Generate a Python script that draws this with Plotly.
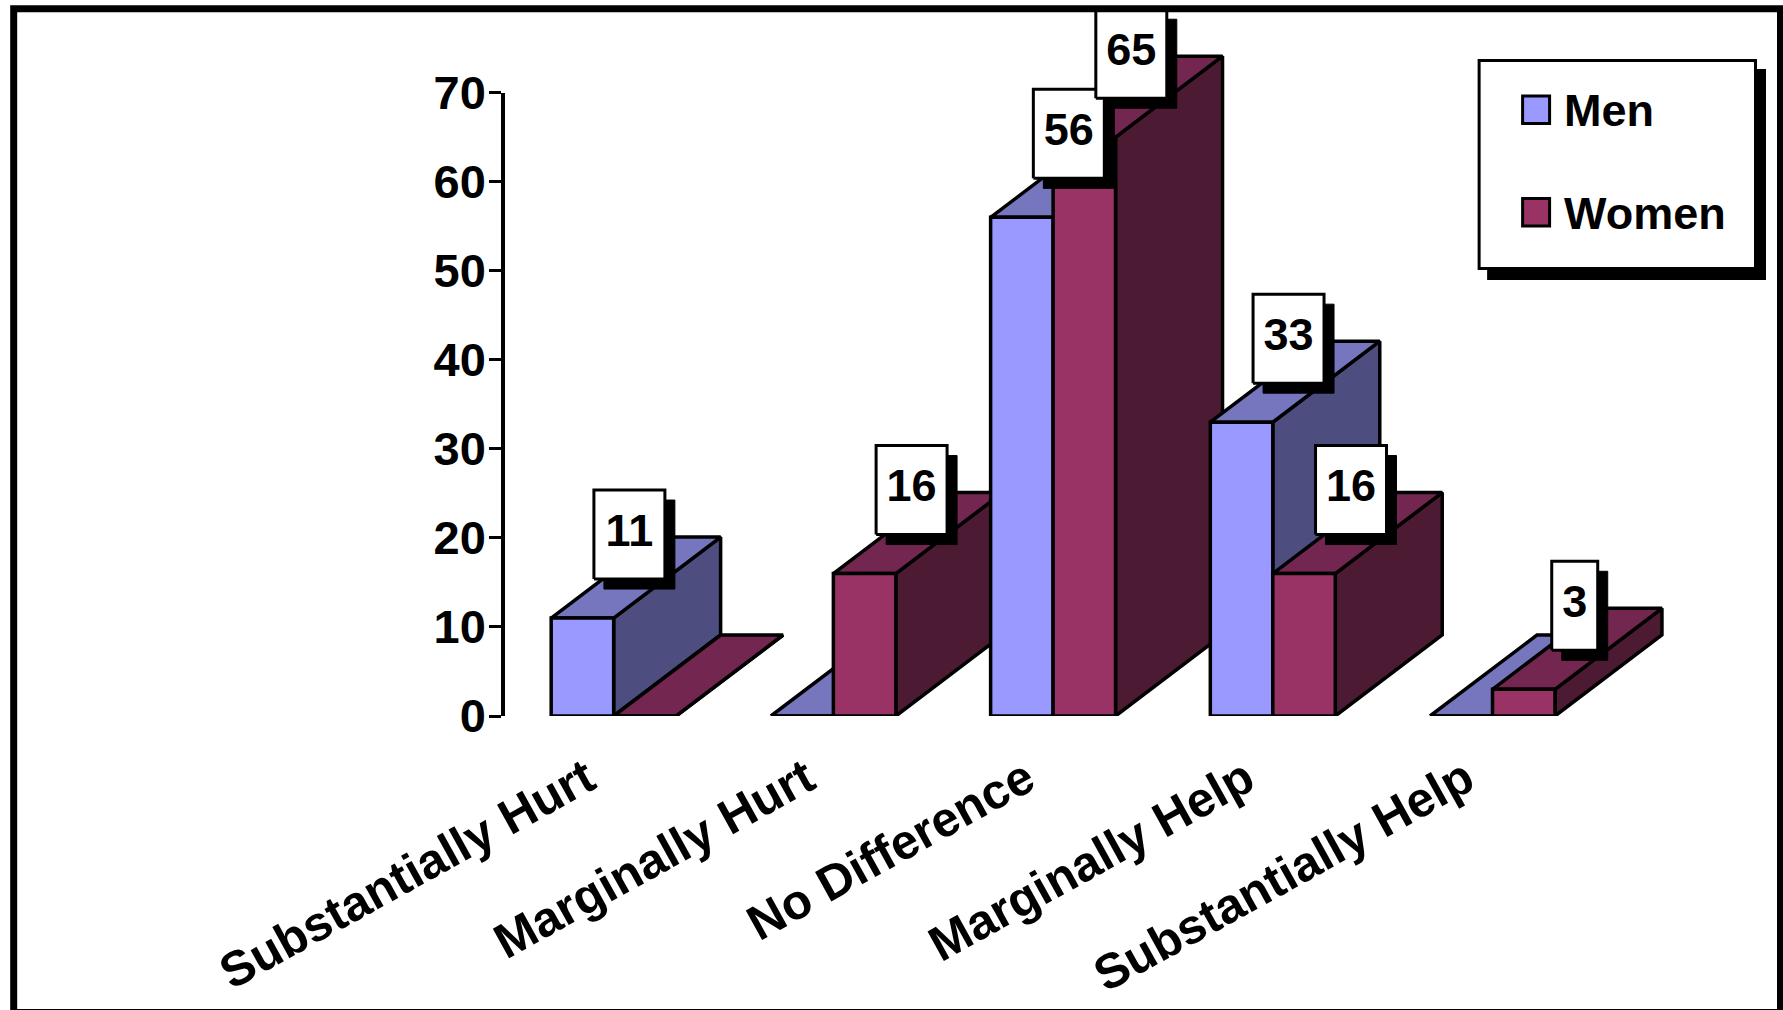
import plotly.graph_objects as go

categories = ["Substantially Hurt", "Marginally Hurt", "No Difference", "Marginally Help", "Substantially Help"]
men = [11, 0, 56, 33, 0]
women = [0, 16, 65, 16, 3]
y_ticks = [0, 10, 20, 30, 40, 50, 60, 70]

W, H = 1783, 1010
L, R, T, B = 504.5, 1783.0, 2.0, 716.0
FONT = "Liberation Sans"
XU = 219.8              # px per category
YU = 623.3 / 70.0       # px per value unit
X_ZERO = 613.2          # px of the first category
Y_MAX = (B - T) / YU
BAR = 62.5 / XU
DX, DY = 107 / XU, 81 / YU
LW = 3.5

MEN_C = ("#9999FF", "#7676BF", "#4D4D80")
WOM_C = ("#993366", "#732650", "#4D1A33")


def poly(xs, ys, fill, lw=LW, line="#000000"):
    return go.Scatter(x=xs + xs[:1], y=ys + ys[:1], mode="lines", fill="toself", fillcolor=fill,
                      line=dict(color=line, width=lw), cliponaxis=False, hoverinfo="skip", showlegend=False)


def bar_traces(x0, v, cols):
    x1 = x0 + BAR
    return [
        poly([x1, x1 + DX, x1 + DX, x1], [0, DY, v + DY, v], cols[2]),
        poly([x0, x1, x1 + DX, x0 + DX], [v, v, v + DY, v + DY], cols[1]),
        poly([x0, x1, x1, x0], [0, 0, v, v], cols[0]),
    ]


fig = go.Figure()
for i in range(len(categories)):
    fig.add_traces(bar_traces(i - BAR, men[i], MEN_C))
    fig.add_traces(bar_traces(i, women[i], WOM_C))

LY = 83.5 / YU
SX, SY = 10 / XU, 10 / YU
for i in range(len(categories)):
    for x0, v in ((i - BAR, men[i]), (i, women[i])):
        if v == 0:
            continue
        two = v >= 10
        cx, cy = x0 + BAR / 2 + (47 if two else 51) / XU, v + LY
        hw = (35.5 if two else 23) / XU
        hh = 44.5 / YU
        fig.add_trace(poly([cx - hw + SX, cx + hw + SX, cx + hw + SX, cx - hw + SX],
                           [cy - hh - SY, cy - hh - SY, cy + hh - SY, cy + hh - SY], "#000000", lw=1))
        fig.add_trace(poly([cx - hw, cx + hw, cx + hw, cx - hw],
                           [cy - hh, cy - hh, cy + hh, cy + hh], "#FFFFFF", lw=3))
        fig.add_trace(go.Scatter(x=[cx], y=[cy], mode="text", text=[str(v)], textposition="middle center",
                                 textfont=dict(family=FONT, size=45, color="#000000", weight="bold"),
                                 cliponaxis=False, hoverinfo="skip", showlegend=False))

# carries the visible value axis, which stops at 70
fig.add_trace(go.Scatter(x=[0], y=[0], yaxis="y2", mode="markers", marker=dict(opacity=0),
                         hoverinfo="skip", showlegend=False))


def px(x):
    return (x - L) / (R - L)


def py(y):
    return (B - y) / (B - T)


def rect(x0, y0, x1, y1, fill, line="#000000", lw=3):
    return dict(type="rect", xref="paper", yref="paper", x0=px(x0), x1=px(x1), y0=py(y0), y1=py(y1),
                fillcolor=fill, line=dict(color=line, width=lw), layer="above")


shapes = [
    rect(13, 8.7, 1780.5, 1012.5, "rgba(0,0,0,0)", lw=7),
    rect(1487, 69, 1766, 280, "#000000", lw=0),
    rect(1479, 60.5, 1755.5, 268.5, "#FFFFFF", lw=3),
    rect(1522.5, 96, 1549.5, 123.5, MEN_C[0], lw=3),
    rect(1522.5, 198.5, 1549.5, 226, WOM_C[0], lw=3),
]
legend_font = dict(family=FONT, size=45, color="#000000", weight="bold")
annotations = [
    dict(xref="paper", yref="paper", x=px(1562), y=py(110.5), text="Men", showarrow=False, xanchor="left",
         yanchor="middle", font=legend_font),
    dict(xref="paper", yref="paper", x=px(1562), y=py(213.5), text="Women", showarrow=False, xanchor="left",
         yanchor="middle", font=legend_font),
]

fig.update_layout(
    template="none",
    width=W, height=H, autosize=False,
    margin=dict(l=L, r=W - R, t=T, b=H - B, pad=0, autoexpand=False),
    paper_bgcolor="#FFFFFF", plot_bgcolor="rgba(0,0,0,0)",
    showlegend=False, shapes=shapes, annotations=annotations,
    xaxis=dict(range=[(L - X_ZERO) / XU, (R - X_ZERO) / XU], tickmode="array", automargin=False,
               tickvals=[i - 27 / XU for i in range(len(categories))], ticktext=categories,
               tickangle=-29, ticks="", ticklabelstandoff=24, showline=False, showgrid=False, zeroline=False,
               tickfont=dict(family=FONT, size=49, color="#000000", weight="bold")),
    yaxis=dict(range=[0, Y_MAX], visible=False, showgrid=False, zeroline=False, automargin=False),
    yaxis2=dict(domain=[0, 70 / Y_MAX], range=[0, 70], anchor="x", tickmode="array", tickvals=y_ticks, automargin=False,
                ticks="outside", ticklen=12, tickwidth=3, ticklabelstandoff=-6,
                tickcolor="#000000", showline=True, linecolor="#000000", linewidth=LW, showgrid=False, zeroline=False,
                tickfont=dict(family=FONT, size=47, color="#000000", weight="bold")),
)
fig.write_html("out.html", config=dict(displayModeBar=False),
               post_script="document.body.style.margin='0';document.documentElement.style.overflow='hidden';")
